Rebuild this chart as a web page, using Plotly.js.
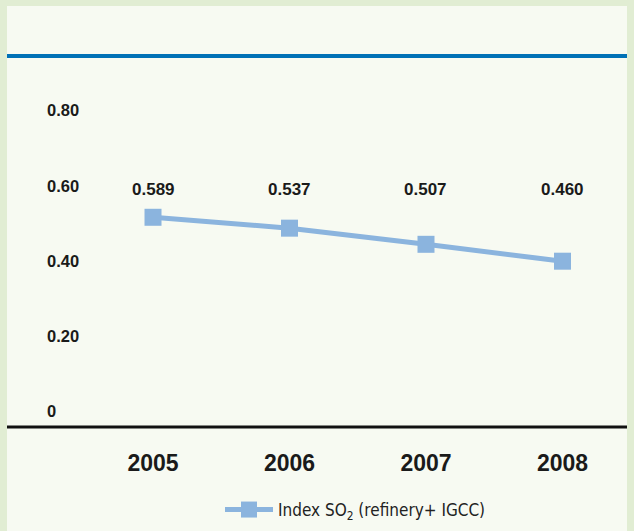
<!DOCTYPE html>
<html><head><meta charset="utf-8">
<script src="https://cdn.plot.ly/plotly-3.0.1.min.js"></script>
<style>html,body{margin:0;padding:0;background:#e1edd3;}</style>
</head><body>
<div id="chart" style="width:634px;height:531px;"></div>
<script>
var years = [2005, 2006, 2007, 2008];
var indexValues = [0.516, 0.487, 0.444, 0.399];
var labelTexts = ['0.589', '0.537', '0.507', '0.460'];
var yTickVals = [0, 0.2, 0.4, 0.6, 0.8];
var yTickText = ['0', '0.20', '0.40', '0.60', '0.80'];
var seriesName = 'Index SO<sub>2</sub> (refinery+ IGCC)';

var W = 634, H = 531;
function py(p){ return 1 - p / H; }
function px(p){ return p / W; }

var lineColor = '#8bb4de';
var boldFont = 'Liberation Sans, Arial, Helvetica, sans-serif';
var narrowFont = 'Liberation Sans Narrow, Arial Narrow, DejaVu Sans Condensed, Liberation Sans, sans-serif';

var trace = {
  x: years, y: indexValues, type: 'scatter', mode: 'lines+markers',
  name: seriesName,
  line: {color: lineColor, width: 5},
  marker: {symbol: 'square', size: 17, color: lineColor},
  showlegend: true, hoverinfo: 'skip'
};

var annotations = years.map(function(yr, i){
  return {x: yr, xref: 'x', y: py(190), yref: 'paper', text: labelTexts[i],
    showarrow: false, xanchor: 'center', yanchor: 'middle',
    font: {family: boldFont, size: 17, weight: 'bold', color: '#1a1a1a'}};
});

var layout = {
  width: W, height: H,
  margin: {l: 0, r: 0, t: 0, b: 0},
  paper_bgcolor: '#e1edd3',
  plot_bgcolor: 'rgba(0,0,0,0)',
  showlegend: true,
  xaxis: {
    range: [2003.879, 2008.524], tickvals: years, ticktext: years.map(String),
    showgrid: false, zeroline: false, showline: false, ticks: '',
    anchor: 'free', position: py(447),
    tickfont: {family: boldFont, size: 23, weight: 'bold', color: '#1a1a1a'},
    fixedrange: true
  },
  yaxis: {
    range: [-0.3197, 1.0948], tickvals: yTickVals, ticktext: yTickText,
    showgrid: false, zeroline: false, showline: false, ticks: '',
    anchor: 'free', position: px(43), ticklabelposition: 'inside',
    tickfont: {family: boldFont, size: 16.5, weight: 'bold', color: '#1a1a1a'},
    fixedrange: true
  },
  legend: {
    orientation: 'h', x: px(220), xanchor: 'left', y: py(510), yanchor: 'middle',
    bgcolor: 'rgba(0,0,0,0)', itemwidth: 48,
    font: {family: narrowFont, size: 17, color: '#222'}
  },
  shapes: [
    {type: 'rect', xref: 'paper', yref: 'paper', x0: px(7), x1: px(627), y0: 0, y1: py(6),
     fillcolor: '#f7faf2', line: {width: 0}, layer: 'below'},
    {type: 'line', xref: 'paper', yref: 'paper', x0: px(7), x1: px(627), y0: py(56), y1: py(56),
     line: {color: '#0071b6', width: 4}},
    {type: 'line', xref: 'paper', yref: 'paper', x0: px(7), x1: px(627), y0: py(427), y1: py(427),
     line: {color: '#111111', width: 3}}
  ],
  annotations: annotations
};

Plotly.newPlot('chart', [trace], layout, {displayModeBar: false, staticPlot: true});
</script>
</body></html>
